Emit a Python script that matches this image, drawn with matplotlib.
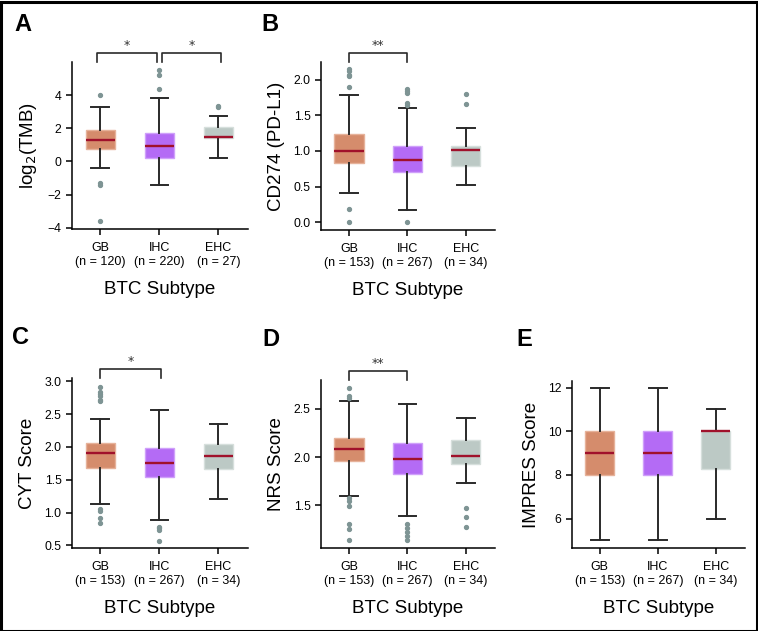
import matplotlib
matplotlib.use("Agg")
import matplotlib.pyplot as plt
from matplotlib import font_manager
from matplotlib.patches import Rectangle

names = {f.name for f in font_manager.fontManager.ttflist}
NARROW = 'Liberation Sans Narrow' if 'Liberation Sans Narrow' in names else 'Liberation Sans'
REG = 'Liberation Sans'

groups = ["GB", "IHC", "EHC"]
colors = ["#D58C6C", "#B46BF5", "#BCC9C5"]
edge_colors = ["#E6B29A", "#CFA0FA", "#D6DFDC"]

# Panel A: log2(TMB)
nA = [120, 220, 27]
A_q1 = [0.72, 0.2, 1.4]
A_med = [1.3, 0.95, 1.45]
A_q3 = [1.88, 1.72, 2.05]
A_lo = [-0.4, -1.4, 0.2]
A_hi = [3.3, 3.85, 2.75]
A_fl = [[4.0, -1.3, -1.4, -3.62], [4.4, 5.2, 5.5], [3.35, 3.3]]

# Panel B: CD274 (PD-L1)
nB = [153, 267, 34]
B_q1 = [0.83, 0.70, 0.79]
B_med = [1.0, 0.87, 1.01]
B_q3 = [1.24, 1.07, 1.07]
B_lo = [0.41, 0.17, 0.52]
B_hi = [1.78, 1.60, 1.32]
B_fl = [[2.15, 2.12, 2.07, 2.05, 1.9, 0.18, 0.0], [1.87, 1.84, 1.81, 1.67, 1.65, 0.0], [1.8, 1.66]]

# Panel C: CYT Score
nC = [153, 267, 34]
C_q1 = [1.68, 1.54, 1.66]
C_med = [1.9, 1.75, 1.86]
C_q3 = [2.06, 1.98, 2.04]
C_lo = [1.13, 0.89, 1.2]
C_hi = [2.43, 2.56, 2.35]
C_fl = [[2.92, 2.83, 2.8, 2.78, 2.72, 2.7, 1.05, 1.02, 0.92, 0.84], [0.78, 0.76, 0.73, 0.57], []]

# Panel D: NRS Score
nD = [153, 267, 34]
D_q1 = [1.955, 1.82, 1.93]
D_med = [2.087, 1.98, 2.015]
D_q3 = [2.2, 2.15, 2.18]
D_lo = [1.6, 1.385, 1.73]
D_hi = [2.577, 2.55, 2.41]
D_fl = [[2.72, 2.632, 2.615, 1.57, 1.545, 1.49, 1.30, 1.25, 1.135],
        [1.30, 1.26, 1.22, 1.18, 1.14], [1.47, 1.38, 1.27]]

# Panel E: IMPRES Score
nE = [153, 267, 34]
E_q1 = [8, 8, 8.25]
E_med = [9, 9, 10]
E_q3 = [10, 10, 10]
E_lo = [5, 5, 6]
E_hi = [12, 12, 11]
E_fl = [[], [], []]

W, H = 758, 631
fig = plt.figure(figsize=(W / 100, H / 100), dpi=100)

def add_ax(left, top, right, bottom):
    return fig.add_axes([left / W, 1 - bottom / H, (right - left) / W, (bottom - top) / H])

def panel(ax, n, q1, med, q3, lo, hi, fl, ylabel, ylim, yticks, yfmt, letter, lx, ly, brackets):
    stats = []
    for i in range(3):
        stats.append(dict(q1=q1[i], med=med[i], q3=q3[i], whislo=lo[i], whishi=hi[i],
                          fliers=fl[i], label=f"{groups[i]}\n(n = {n[i]})"))
    bp = ax.bxp(stats, positions=[0, 1, 2], widths=0.5, patch_artist=True,
                showfliers=True,
                medianprops=dict(color="#A0112B", linewidth=1.7, solid_capstyle='butt'),
                whiskerprops=dict(color="#2A2A2A", linewidth=1.4),
                capprops=dict(color="#2A2A2A", linewidth=1.4),
                capwidths=0.3,
                flierprops=dict(marker='o', markersize=2.8, markerfacecolor="#7E9494",
                                markeredgecolor="#7E9494", linestyle='none'))
    for patch, c, e in zip(bp['boxes'], colors, edge_colors):
        patch.set_facecolor(c)
        patch.set_edgecolor(e)
        patch.set_linewidth(1.0)
    ax.set_xlim(-0.48, 2.5)
    ax.set_ylim(*ylim)
    ax.set_yticks(yticks)
    ax.set_yticklabels([yfmt.format(v).replace('-', '\u2212') for v in yticks],
                       fontsize=8.8, family=REG)
    for t in ax.get_xticklabels():
        t.set_fontsize(9)
        t.set_family(REG)
        t.set_linespacing(1.25)
    for s in ['top', 'right']:
        ax.spines[s].set_visible(False)
    for s in ['left', 'bottom']:
        ax.spines[s].set_linewidth(1.1)
    ax.tick_params(length=4.5, width=1.1, pad=3)
    ax.tick_params(axis='x', pad=5)
    ax.set_xlabel("BTC Subtype", fontsize=13.5, family=NARROW, labelpad=9)
    ax.set_ylabel(ylabel, fontsize=13.5, family=NARROW, labelpad=6)
    fig.text(lx / W, 1 - ly / H, letter, fontsize=17, fontweight='bold', family=REG,
             ha='left', va='top')
    for (x0, x1, txt) in brackets:
        ax.plot([x0, x0, x1, x1], [1.0, 1.052, 1.052, 1.0], color="#2A2A2A", lw=1.2,
                transform=ax.get_xaxis_transform(), clip_on=False)
        ax.text((x0 + x1) / 2, 1.058, txt, ha='center', va='bottom', fontsize=9,
                transform=ax.get_xaxis_transform(), color="#333333")

axA = add_ax(72, 62, 248, 229)
panel(axA, nA, A_q1, A_med, A_q3, A_lo, A_hi, A_fl, "log$_2$(TMB)", (-4.08, 6.0),
      [-4, -2, 0, 2, 4], "{:d}", "A", 14, 13, [(-0.06, 0.96, "*"), (1.05, 2.05, "*")])

axB = add_ax(321, 62, 495, 230)
panel(axB, nB, B_q1, B_med, B_q3, B_lo, B_hi, B_fl, "CD274 (PD-L1)", (-0.11, 2.25),
      [0.0, 0.5, 1.0, 1.5, 2.0], "{:.1f}", "B", 261, 13, [(0, 1, "**")])

axC = add_ax(72, 378, 248, 548)
panel(axC, nC, C_q1, C_med, C_q3, C_lo, C_hi, C_fl, "CYT Score", (0.46, 3.05),
      [0.5, 1.0, 1.5, 2.0, 2.5, 3.0], "{:.1f}", "C", 12, 326, [(0, 1.02, "*")])

axD = add_ax(321, 380, 495, 548)
panel(axD, nD, D_q1, D_med, D_q3, D_lo, D_hi, D_fl, "NRS Score", (1.055, 2.8),
      [1.5, 2.0, 2.5], "{:.1f}", "D", 262, 328, [(0, 1, "**")])

axE = add_ax(572, 381, 745, 548)
panel(axE, nE, E_q1, E_med, E_q3, E_lo, E_hi, E_fl, "IMPRES Score", (4.65, 12.3),
      [6, 8, 10, 12], "{:d}", "E", 516, 328, [])

fig.patches.append(Rectangle((0.5 / W, 0.5 / H), 1 - 2 / W, 1 - 2 / H, transform=fig.transFigure,
                             fill=False, edgecolor='black', linewidth=2.2))

fig.savefig("out.png", dpi=100)
